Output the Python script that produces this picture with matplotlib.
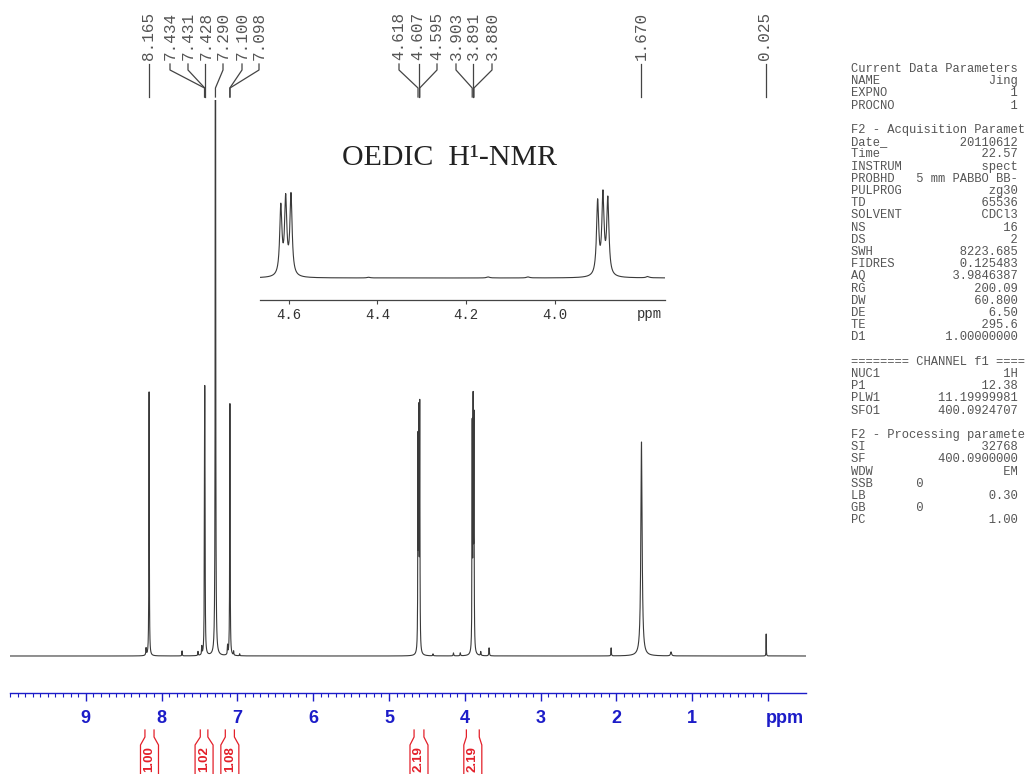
import numpy as np
import matplotlib
matplotlib.use('Agg')
import matplotlib.pyplot as plt
from matplotlib.lines import Line2D

W, H = 1028, 774

# ---- data ----
# peak list: shift (ppm), height (main plot units), half width (ppm)
shift = [8.205, 8.165, 7.73, 7.52, 7.47, 7.434, 7.431, 7.428, 7.290, 7.13,
         7.100, 7.098, 7.05, 6.97, 4.618, 4.607, 4.595, 4.42, 4.15, 4.06,
         3.903, 3.891, 3.880, 3.79, 3.68, 2.07, 1.670, 1.28, 0.025]
height = [7, 264, 5, 4, 8, 120, 150, 120, 1000, 9,
          140, 140, 4, 2, 205, 225, 240, 2, 3, 3,
          220, 236, 226, 4, 8, 8, 214, 4, 22]
hwhm = [0.004, 0.003, 0.003, 0.003, 0.003, 0.003, 0.003, 0.003, 0.003, 0.003,
        0.003, 0.003, 0.003, 0.003, 0.003, 0.003, 0.003, 0.004, 0.004, 0.004,
        0.003, 0.003, 0.003, 0.004, 0.004, 0.003, 0.010, 0.008, 0.002]

# picked peaks shown on top
pick_ppm = [8.165, 7.434, 7.431, 7.428, 7.290, 7.100, 7.098,
            4.618, 4.607, 4.595, 3.903, 3.891, 3.880, 1.670, 0.025]
pick_text = ['8.165', '7.434', '7.431', '7.428', '7.290', '7.100', '7.098',
             '4.618', '4.607', '4.595', '3.903', '3.891', '3.880', '1.670', '0.025']

# integrals
int_from = [8.22, 7.49, 7.16, 4.67, 3.98]
int_to = [8.10, 7.39, 7.04, 4.54, 3.81]
int_val = ['1.00', '1.02', '1.08', '2.19', '2.19']

major_ticks = [9, 8, 7, 6, 5, 4, 3, 2, 1]
inset_ticks = [4.6, 4.4, 4.2, 4.0]

# acquisition / processing parameters (name, value); value None -> heading line
params = [
    ('Current Data Parameters', None),
    ('NAME', 'Jing'),
    ('EXPNO', '1'),
    ('PROCNO', '1'),
    ('', None),
    ('F2 - Acquisition Paramet', None),
    ('Date_', '20110612'),
    ('Time', '22.57'),
    ('INSTRUM', 'spect'),
    ('PROBHD', '5 mm PABBO BB-'),
    ('PULPROG', 'zg30'),
    ('TD', '65536'),
    ('SOLVENT', 'CDCl3'),
    ('NS', '16'),
    ('DS', '2'),
    ('SWH', '8223.685'),
    ('FIDRES', '0.125483'),
    ('AQ', '3.9846387'),
    ('RG', '200.09'),
    ('DW', '60.800'),
    ('DE', '6.50'),
    ('TE', '295.6'),
    ('D1', '1.00000000'),
    ('', None),
    ('======== CHANNEL f1 ====', None),
    ('NUC1', '1H'),
    ('P1', '12.38'),
    ('PLW1', '11.19999981'),
    ('SFO1', '400.0924707'),
    ('', None),
    ('F2 - Processing paramete', None),
    ('SI', '32768'),
    ('SF', '400.0900000'),
    ('WDW', 'EM'),
    ('SSB', '0'),
    ('LB', '0.30'),
    ('GB', '0'),
    ('PC', '1.00'),
]
short_values = ['SSB', 'GB']


def spectrum(x):
    y = np.zeros_like(x)
    for s, h, w in zip(shift, height, hwhm):
        y += h * w ** 2 / ((x - s) ** 2 + w ** 2)
    return y


def fx(px):
    return px / W


def fy(py):
    return 1 - py / H


fig = plt.figure(figsize=(W / 100, H / 100), dpi=100)
fig.patch.set_facecolor('white')

blue = '#1c1cc8'
red = '#e3202a'
mono = 'Liberation Mono'

# ---- main spectrum ----
ax = fig.add_axes([fx(10), fy(693), fx(796), 593 / H])
x = np.arange(-0.5, 10.0, 0.0005)
ax.plot(x, spectrum(x), color='#3a3a3a', lw=0.8)
ax.set_xlim(10.0, -0.5)
ax.set_ylim(-37, 556)
for s in ['left', 'right', 'top']:
    ax.spines[s].set_visible(False)
ax.spines['bottom'].set_color(blue)
ax.spines['bottom'].set_linewidth(1.0)
ax.set_yticks([])
ax.set_xticks(major_ticks + [0])
ax.set_xticklabels([str(t) for t in major_ticks] + [''])
ax.set_xticks(np.arange(0, 10.01, 0.1), minor=True)
ax.tick_params(axis='x', which='major', direction='out', length=6, width=1,
               color=blue, labelcolor=blue, labelsize=13, pad=6)
ax.tick_params(axis='x', which='minor', direction='out', length=3, width=0.8, color=blue)
for lab in ax.get_xticklabels():
    lab.set_fontweight('bold')
    lab.set_family('Liberation Sans')
ax.text(0.03, -54, 'ppm', ha='left', va='top', color=blue, fontsize=13,
        fontweight='bold', family='Liberation Sans')


def ppm_to_fig(a, ppm):
    d = a.transData.transform((ppm, 0))
    return fig.transFigure.inverted().transform(d)[0]


# ---- peak labels ----
label_px = [149, 170, 188, 206, 223, 242, 259, 399, 418, 437, 456, 473, 492, 641, 765]
for p, t, lx in zip(pick_ppm, pick_text, label_px):
    fig.text(fx(lx), fy(60), t, rotation=90, ha='center', va='bottom',
             family=mono, fontsize=11.5, color='#555555')
    px = ppm_to_fig(ax, p)
    if abs(px - fx(lx)) < 2.5 / W:
        fig.add_artist(Line2D([px, px], [fy(64), fy(97)], color='#444444', lw=0.9))
    else:
        fig.add_artist(Line2D([fx(lx), fx(lx), px, px],
                              [fy(64), fy(70), fy(88), fy(97)], color='#444444', lw=0.9))

# ---- integrals ----
for a, b, v in zip(int_from, int_to, int_val):
    xa, xb = ppm_to_fig(ax, a), ppm_to_fig(ax, b)
    c = (xa + xb) / 2
    half = max(9 / W, (xb - xa) / 2 + 2 / W)
    for xe, xo in [(xa, c - half), (xb, c + half)]:
        fig.add_artist(Line2D([xe, xe, xo, xo], [fy(730), fy(737), fy(745), fy(774)],
                              color=red, lw=0.9))
    fig.text(c, fy(759), v, rotation=90, ha='center', va='center', color=red,
             fontsize=9.5, fontweight='bold', family='Liberation Sans')

# ---- inset (expansion of the two triplets) ----
ins = fig.add_axes([fx(260), fy(300), fx(405), 120 / H])
ins.patch.set_alpha(0)
xi = np.arange(3.70, 4.70, 0.0001)
ins.plot(xi, spectrum(xi) / 3, color='#3a3a3a', lw=0.8)
ins.set_xlim(4.665, 3.751)
ins.set_ylim(-22, 98)
for s in ['left', 'right', 'top']:
    ins.spines[s].set_visible(False)
ins.spines['bottom'].set_color('#444444')
ins.spines['bottom'].set_linewidth(0.9)
ins.set_yticks([])
ins.set_xticks(inset_ticks)
ins.set_xticklabels(['%.1f' % t for t in inset_ticks], family=mono, fontsize=10)
ins.tick_params(axis='x', direction='out', length=3, color='#444444',
                labelcolor='#333333', pad=3)
fig.text(fx(662), fy(314), 'ppm', ha='right', va='center',
         family=mono, fontsize=10, color='#333333')

fig.text(fx(449), fy(158), 'OEDIC  H\u00b9-NMR', ha='center', va='center',
         family='Liberation Serif', fontsize=21.5, color='#222222')

# ---- parameter block ----
for i, (k, v) in enumerate(params):
    if v is None:
        line = k
    elif k in short_values:
        line = '%-9s%s' % (k, v)
    else:
        line = '%-8s%15s' % (k, v)
    fig.text(fx(851), fy(69 + i * 12.2), line, ha='left', va='center',
             family=mono, fontsize=8.7, color='#555555')

fig.savefig('out.png', dpi=100)
